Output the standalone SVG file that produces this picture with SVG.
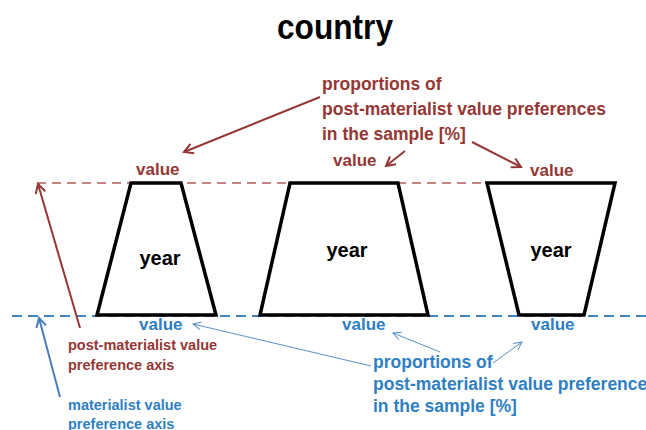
<svg xmlns="http://www.w3.org/2000/svg" width="646" height="430" viewBox="0 0 646 430">
<style>
text{font-family:"Liberation Sans",Arial,sans-serif;font-weight:bold}
.title{font-size:35px;fill:#000}
.red{fill:#953735}
.blue{fill:#2f7fc2}
.lab{font-size:17.5px}
.val{font-size:17px}
.ax{font-size:14.5px}
.yr{font-size:20px;fill:#000}
.trap{fill:#fff;stroke:#000;stroke-width:3.5;stroke-linejoin:miter}
.ra{stroke:#953735;stroke-width:2;fill:none}
.ba{stroke:#5b8fc9;stroke-width:1;fill:none}
.baxis{stroke:#4a7ebb;stroke-width:2;fill:none}
</style>
<defs>
<marker id="mr" markerWidth="12" markerHeight="12" refX="10" refY="6" orient="auto" markerUnits="userSpaceOnUse">
<path d="M1,1 L10,6 L1,11" fill="none" stroke="#953735" stroke-width="2"/>
</marker>
<marker id="mb" markerWidth="10" markerHeight="10" refX="9" refY="5" orient="auto" markerUnits="userSpaceOnUse">
<path d="M1,1 L9,5 L1,9" fill="none" stroke="#5b8fc9" stroke-width="1"/>
</marker>
<marker id="mba" markerWidth="12" markerHeight="12" refX="10" refY="6" orient="auto" markerUnits="userSpaceOnUse">
<path d="M1,1 L10,6 L1,11" fill="none" stroke="#4a7ebb" stroke-width="2"/>
</marker>
</defs>
<rect width="646" height="430" fill="#fff"/>
<g id="axes">
<line x1="37" y1="183" x2="615" y2="183" stroke="#b05c5c" stroke-width="1.5" stroke-dasharray="9,6"/>
<line x1="12" y1="316" x2="646" y2="316" stroke="#3c85c6" stroke-width="2" stroke-dasharray="10,6"/>
</g>
<g id="title"><text class="title" x="277" y="39" textLength="116" lengthAdjust="spacingAndGlyphs">country</text></g>
<g id="trap1">
<polygon class="trap" points="131,183 181,183 216,315 97,315"/>
<text class="yr" x="160" y="265" text-anchor="middle">year</text>
</g>
<g id="trap2">
<polygon class="trap" points="290,183 398,183 428,315 260,315"/>
<text class="yr" x="347" y="257" text-anchor="middle">year</text>
</g>
<g id="trap3">
<polygon class="trap" points="487,183 615,183 584,315 519,315"/>
<text class="yr" x="551" y="257" text-anchor="middle">year</text>
</g>
<g id="red-label">
<text class="red lab" x="322" y="90">proportions of</text>
<text class="red lab" x="322" y="115">post-materialist value preferences</text>
<text class="red lab" x="322" y="140">in the sample [%]</text>
</g>
<g id="red-values">
<text class="red val" x="136" y="175">value</text>
<text class="red val" x="333" y="166">value</text>
<text class="red val" x="530" y="176">value</text>
</g>
<g id="blue-values">
<text class="blue val" x="139" y="330">value</text>
<text class="blue val" x="342" y="330">value</text>
<text class="blue val" x="531" y="330">value</text>
</g>
<g id="blue-label">
<text class="blue lab" x="373" y="368">proportions of</text>
<text class="blue lab" x="373" y="390">post-materialist value preference</text>
<text class="blue lab" x="373" y="412">in the sample [%]</text>
</g>
<g id="red-axis-label">
<text class="red ax" x="68" y="350">post-materialist value</text>
<text class="red ax" x="68" y="370">preference axis</text>
</g>
<g id="blue-axis-label">
<text class="blue ax" x="68" y="410">materialist value</text>
<text class="blue ax" x="68" y="429">preference axis</text>
</g>
<g id="connectors">
<line class="ra" x1="320" y1="97" x2="184" y2="152" marker-end="url(#mr)"/>
<line class="ra" x1="405" y1="151" x2="386" y2="166" marker-end="url(#mr)"/>
<line class="ra" x1="472" y1="142" x2="521" y2="167" marker-end="url(#mr)"/>
<line class="ra" x1="80" y1="328" x2="38" y2="184" marker-end="url(#mr)"/>
<line class="baxis" x1="60" y1="397" x2="39" y2="318" marker-end="url(#mba)"/>
<line class="ba" x1="371" y1="366" x2="193" y2="324" marker-end="url(#mb)"/>
<line class="ba" x1="440" y1="352" x2="393" y2="333" marker-end="url(#mb)"/>
<line class="ba" x1="493" y1="363" x2="522" y2="342" marker-end="url(#mb)"/>
</g>
</svg>
